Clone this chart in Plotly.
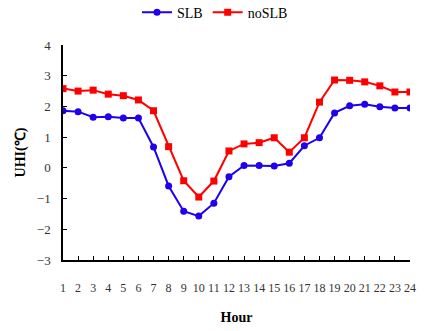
import plotly.graph_objects as go

hours = list(range(1, 25))
slb = [1.86, 1.83, 1.65, 1.66, 1.62, 1.62, 0.68, -0.59, -1.41, -1.57, -1.15, -0.29,
       0.08, 0.08, 0.06, 0.15, 0.72, 0.98, 1.79, 2.02, 2.07, 1.99, 1.95, 1.95]
noslb = [2.58, 2.50, 2.53, 2.40, 2.35, 2.21, 1.86, 0.69, -0.42, -0.95, -0.43, 0.55,
         0.78, 0.82, 0.98, 0.51, 0.98, 2.14, 2.86, 2.85, 2.80, 2.67, 2.47, 2.47]

font = "Liberation Serif, Times New Roman, serif"

fig = go.Figure()
fig.add_trace(go.Scatter(x=hours, y=slb, name="SLB", mode="lines+markers",
                         line=dict(color="#1f00ee", width=2),
                         marker=dict(symbol="circle", size=7, color="#1f00ee")))
fig.add_trace(go.Scatter(x=hours, y=noslb, name="noSLB", mode="lines+markers",
                         line=dict(color="#ff0000", width=2),
                         marker=dict(symbol="square", size=7, color="#ff0000")))

fig.update_layout(
    width=430, height=331,
    margin=dict(l=63, r=20, t=45, b=71, autoexpand=False),
    paper_bgcolor="white", plot_bgcolor="white",
    font=dict(family=font, size=13, color="#222"),
    showlegend=True,
    legend=dict(orientation="h", xref="container", yref="paper",
                x=0.5, xanchor="center", y=1.15, yanchor="middle",
                font=dict(size=14, color="black"), itemwidth=30,
                tracegroupgap=0, bgcolor="rgba(0,0,0,0)"),
    xaxis=dict(range=[1, 24], tickvals=hours, ticks="inside", ticklen=4,
               tickangle=0, automargin=False,
               showline=True, linecolor="black", linewidth=1.5, tickcolor="black",
               showgrid=False, zeroline=False, ticklabelstandoff=16,
               tickfont=dict(size=12, color="#333"),
               title=dict(text="<b>Hour</b>", font=dict(size=14, color="black"), standoff=18)),
    yaxis=dict(range=[-3, 4], dtick=1, ticks="inside", ticklen=4, automargin=False,
               showline=True, linecolor="black", linewidth=1.5, tickcolor="black",
               showgrid=False, zeroline=False, ticklabelstandoff=8,
               tickfont=dict(size=13, color="#333"),
               title=dict(text="<b>UHI(℃)</b>", font=dict(size=14, color="black"), standoff=8)),
)

fig.write_html("out.html")
